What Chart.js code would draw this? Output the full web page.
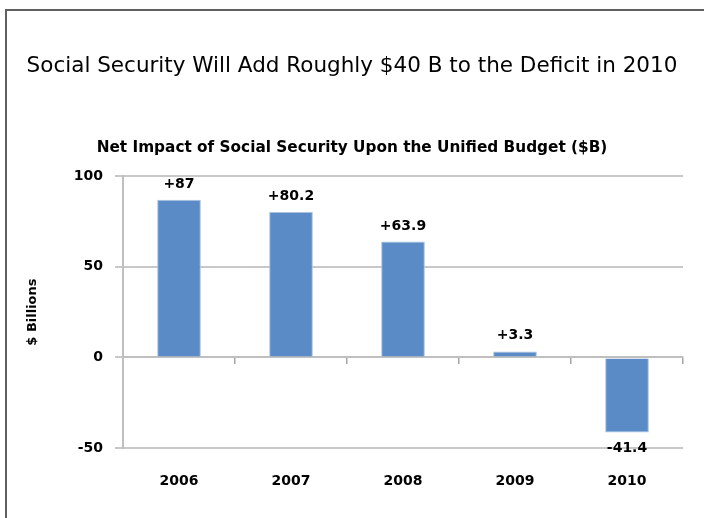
<!DOCTYPE html>
<html>
<head>
<meta charset="utf-8">
<script src="https://cdn.jsdelivr.net/npm/chart.js@4"></script>
<style>
  body { margin: 0; background: #fff; }
  #wrap { position: relative; width: 704px; height: 518px; }
  #frame { position: absolute; left: 5px; top: 9px; right: 0; bottom: 0;
           border-left: 2px solid #606060; border-top: 2px solid #606060; pointer-events: none; }
</style>
</head>
<body>
<div id="wrap">
  <canvas id="chart" width="704" height="518"></canvas>
  <div id="frame"></div>
</div>
<script>
const years = ['2006', '2007', '2008', '2009', '2010'];
const netImpact = [87, 80.2, 63.9, 3.3, -41.4];
const yTicks = [-50, 0, 50, 100];

const font = '"DejaVu Sans", sans-serif';

// data labels above / below each bar
const barLabels = {
    id: 'barLabels',
    afterDatasetsDraw(chart) {
        const ctx = chart.ctx;
        const meta = chart.getDatasetMeta(0);
        ctx.save();
        ctx.font = 'bold 14px ' + font;
        ctx.fillStyle = '#000';
        ctx.textAlign = 'center';
        ctx.textBaseline = 'alphabetic';
        meta.data.forEach((bar, i) => {
            const v = netImpact[i];
            const txt = (v > 0 ? '+' : '') + v;
            const y = v >= 0 ? bar.y - 12 : bar.y + 20;
            ctx.fillText(txt, bar.x, y);
        });
        ctx.restore();
    }
};

new Chart(document.getElementById('chart'), {
    type: 'bar',
    data: {
        labels: years,
        datasets: [{
            data: netImpact,
            backgroundColor: '#5b8bc6',
            borderColor: '#a9c2e2',
            borderWidth: 1,
            barPercentage: 0.39,
            categoryPercentage: 1
        }]
    },
    options: {
        responsive: false,
        animation: false,
        layout: { padding: { left: 21, right: 21, top: 0, bottom: 70 } },
        plugins: {
            legend: { display: false },
            tooltip: { enabled: false },
            title: {
                display: true,
                text: 'Social Security Will Add Roughly $40 B to the Deficit in 2010',
                color: '#000',
                font: { family: font, size: 21.5, weight: 'normal' },
                padding: { top: 54, bottom: 59 }
            },
            subtitle: {
                display: true,
                text: 'Net Impact of Social Security Upon the Unified Budget ($B)',
                color: '#000',
                font: { family: font, size: 15.3, weight: 'bold' },
                padding: { top: 0, bottom: 19 }
            }
        },
        scales: {
            x: {
                position: { y: 0 },
                afterFit(scale) { scale.paddingLeft = 0; scale.paddingRight = 0; },
                grid: { display: true, drawOnChartArea: false, offset: true, tickLength: 6, color: '#a6a6a6', lineWidth: 1.5 },
                border: { display: true, color: '#bfbfbf', width: 2 },
                ticks: { color: '#000', padding: 110, font: { family: font, size: 14, weight: 'bold' } }
            },
            y: {
                min: -50,
                max: 100,
                afterFit(scale) { scale.width = 102; },
                afterBuildTicks(scale) { scale.ticks = yTicks.map(v => ({ value: v })); },
                grid: { color: '#c8c8c8', lineWidth: 2, tickLength: 8 },
                border: { display: true, color: '#bfbfbf', width: 2 },
                ticks: { color: '#000', padding: 12, font: { family: font, size: 14, weight: 'bold' } },
                title: {
                    display: true,
                    text: '$ Billions',
                    color: '#000',
                    font: { family: font, size: 13, weight: 'bold' },
                    padding: { top: 4, bottom: 0 }
                }
            }
        }
    },
    plugins: [barLabels]
});
</script>
</body>
</html>
